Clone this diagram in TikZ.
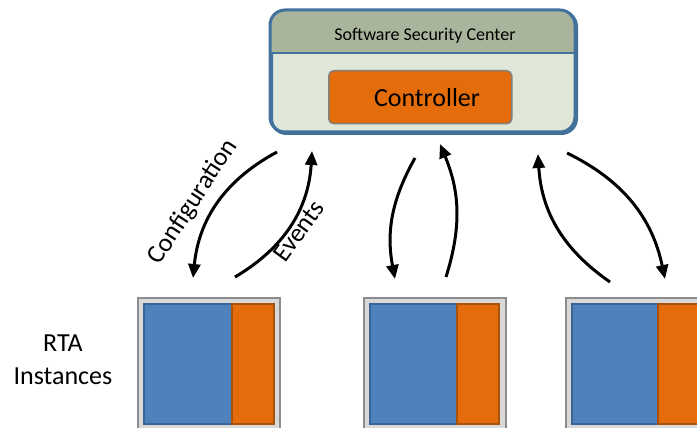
\documentclass[tikz,border=0pt]{standalone}
\usepackage{fontspec}
\setmainfont{Carlito}
\usetikzlibrary{arrows.meta}
\definecolor{sscborder}{HTML}{41719C}
\definecolor{sschead}{HTML}{A8B49B}
\definecolor{sscbody}{HTML}{DEE7D8}
\definecolor{ctrlorange}{HTML}{E46C0A}
\definecolor{ctrlborder}{HTML}{7F7F7F}
\definecolor{rtagray}{HTML}{D9D9D9}
\definecolor{rtagrayborder}{HTML}{8C8C8C}
\definecolor{rtablue}{HTML}{4F81BD}
\definecolor{rtablueborder}{HTML}{3A6396}
\definecolor{rtaorangeborder}{HTML}{A5520C}
\tikzset{
  outerbox/.style={draw=rtagrayborder, fill=rtagray, line width=2pt, anchor=north west, minimum width=142pt, minimum height=135pt, inner sep=0pt},
  bluebox/.style={draw=rtablueborder, fill=rtablue, line width=2pt, anchor=north west, minimum width=88pt, minimum height=120pt, inner sep=0pt},
  orangebox/.style={draw=rtaorangeborder, fill=ctrlorange, line width=2pt, anchor=north west, minimum width=42pt, minimum height=120pt, inner sep=0pt},
  flow/.style={line width=3pt, -{Triangle[length=14pt,width=12pt]}},
  lbl/.style={font=\fontsize{26}{30}\selectfont, inner sep=0pt},
}
\begin{document}
\begin{tikzpicture}[x=1pt,y=-1pt]
\useasboundingbox (0,0) rectangle (697,428);
% Software Security Center
\node[draw=sscborder, fill=sscbody, line width=3pt, rounded corners=15pt, anchor=north west, minimum width=305pt, minimum height=122pt, inner sep=0pt] (ssc) at (270,10) {};
\begin{scope}
  \clip[rounded corners=15pt] (270,10) rectangle (575,132);
  \fill[sschead] (270,10) rectangle (575,53);
\end{scope}
\draw[sscborder, line width=2pt] (271,53) -- (574,53);
\draw[sscborder, line width=3pt, rounded corners=15pt] (270,10) rectangle (575,132);
\node[font=\fontsize{18}{22}\selectfont, inner sep=0pt] (ssctitle) at (425,36) {Software Security Center};
\node[draw=ctrlborder, fill=ctrlorange, line width=1.5pt, rounded corners=5pt, anchor=north west, minimum width=183pt, minimum height=53pt, inner sep=0pt] (ctrl) at (328,70) {};
\node[lbl] (ctrltext) at (427,98) {Controller};

% RTA instances
\node[lbl, align=center, font=\fontsize{26}{33}\selectfont] (rtalabel) at (63,360) {RTA\\Instances};
\node[outerbox] (r1) at (137,297) {};
\node[bluebox] (r1b) at (143,303) {};
\node[orangebox] (r1o) at (231,303) {};
\node[outerbox] (r2) at (363,297) {};
\node[bluebox] (r2b) at (369,303) {};
\node[orangebox] (r2o) at (456,303) {};
\node[outerbox] (r3) at (565,297) {};
\node[bluebox] (r3b) at (571,303) {};
\node[orangebox] (r3o) at (657,303) {};

% arrow end points
\coordinate (a1s) at (277,152); \coordinate (a1e) at (193,278);
\coordinate (a2s) at (235,277); \coordinate (a2e) at (312,151);
\coordinate (a3s) at (415,158); \coordinate (a3e) at (395,279);
\coordinate (a4s) at (446,277); \coordinate (a4e) at (440,144);
\coordinate (a5s) at (610,282); \coordinate (a5e) at (538,154);
\coordinate (a6s) at (567,153); \coordinate (a6e) at (665,279);

\draw[flow] (a1s) to[bend right=28] (a1e);
\draw[flow] (a2s) to[bend right=28] (a2e);
\draw[flow] (a3s) to[bend right=20] (a3e);
\draw[flow] (a4s) to[bend right=20] (a4e);
\draw[flow] (a5s) to[bend left=26] (a5e);
\draw[flow] (a6s) to[bend left=26] (a6e);

\node[lbl, rotate=57] (conf) at (193,202) {Configuration};
\node[lbl, rotate=54] (events) at (299,231) {Events};
\end{tikzpicture}
\end{document}
